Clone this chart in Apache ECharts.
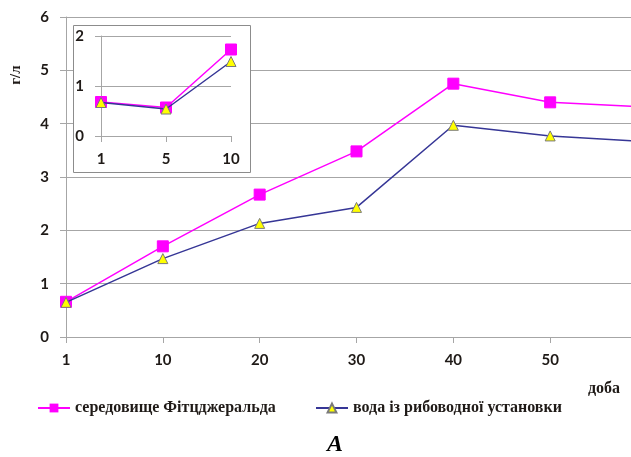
<!DOCTYPE html>
<html>
<head>
<meta charset="utf-8">
<script src="https://cdn.jsdelivr.net/npm/echarts@6/dist/echarts.min.js"></script>
<style>html,body{margin:0;padding:0;background:#fff}#c{width:631px;height:457px}</style>
</head>
<body>
<div id="c"></div>
<script>
// Main chart data
const mainCategories = ['1', '10', '20', '30', '40', '50', '60'];
const fitzgerald = [0.66, 1.70, 2.67, 3.48, 4.75, 4.40, 4.31];
const fishWater = [0.65, 1.47, 2.13, 2.43, 3.97, 3.77, 3.66];
const mainYTicks = [0, 1, 2, 3, 4, 5, 6];
// Inset chart data
const insetCategories = ['1', '5', '10'];
const fitzInset = [0.68, 0.57, 1.73];
const fishInset = [0.67, 0.54, 1.49];
const insetYTicks = [0, 1, 2];

const nameFitz = 'середовище Фітцджеральда';
const nameFish = 'вода із рибоводної установки';
const pink = '#ff00ff';
const navy = '#363696';
const gridGray = '#a6a6a6';
const labelFont = { fontFamily: 'Lato', fontWeight: 'bold', fontSize: 15, color: '#1f1a17' };
const serif = 'Liberation Serif';

const chart = echarts.init(document.getElementById('c'));
const fitzStyle = {
  symbol: 'rect', symbolSize: 11,
  lineStyle: { color: pink, width: 1.5 },
  itemStyle: { color: pink, borderColor: pink }
};
const fishStyle = {
  symbol: 'triangle', symbolSize: 10,
  lineStyle: { color: navy, width: 1.5 },
  itemStyle: { color: '#ffff00', borderColor: '#7a7a7a', borderWidth: 1 }
};
const legendText = { fontFamily: serif, fontWeight: 'bold', fontSize: 16, color: '#1f1a17' };

chart.setOption({
  animation: false,
  backgroundColor: '#fff',
  grid: [
    { left: 66, right: -16, top: 17, bottom: 120, outerBoundsMode: 'none', containLabel: false },
    { left: 101, right: 400, top: 36, bottom: 321, outerBoundsMode: 'none', containLabel: false }
  ],
  xAxis: [
    {
      gridIndex: 0, type: 'category', data: mainCategories, boundaryGap: false, z: 0,
      axisLine: { lineStyle: { color: gridGray } },
      axisTick: { show: true, alignWithLabel: true, length: 6, lineStyle: { color: gridGray } },
      axisLabel: Object.assign({ margin: 16, interval: 0, hideOverlap: false }, labelFont)
    },
    {
      gridIndex: 1, type: 'category', data: insetCategories, boundaryGap: false, z: 3,
      axisLine: { lineStyle: { color: gridGray } },
      axisTick: { show: true, length: 6, lineStyle: { color: gridGray } },
      axisLabel: Object.assign({ margin: 16, interval: 0 }, labelFont)
    }
  ],
  yAxis: [
    {
      gridIndex: 0, type: 'value', min: mainYTicks[0], max: mainYTicks[mainYTicks.length - 1], interval: 1, z: 0,
      axisLine: { show: true, lineStyle: { color: gridGray } },
      axisTick: { show: true, length: 6, lineStyle: { color: gridGray } },
      splitLine: { lineStyle: { color: gridGray, width: 1 } },
      axisLabel: Object.assign({ margin: 17 }, labelFont)
    },
    {
      gridIndex: 1, type: 'value', min: insetYTicks[0], max: insetYTicks[insetYTicks.length - 1], interval: 1, z: 3,
      axisLine: { show: true, lineStyle: { color: gridGray } },
      axisTick: { show: true, length: 6, lineStyle: { color: gridGray } },
      splitLine: { lineStyle: { color: gridGray, width: 1 } },
      axisLabel: Object.assign({ margin: 17 }, labelFont)
    }
  ],
  legend: [
    { data: [nameFitz], left: 37, top: 400, padding: 0, itemWidth: 32, itemHeight: 11, textStyle: legendText },
    { data: [nameFish], left: 315, top: 400, padding: 0, itemWidth: 32, itemHeight: 11, textStyle: legendText }
  ],
  series: [
    Object.assign({ name: nameFitz, type: 'line', xAxisIndex: 0, yAxisIndex: 0, data: fitzgerald, z: 2 }, fitzStyle),
    Object.assign({ name: nameFish, type: 'line', xAxisIndex: 0, yAxisIndex: 0, data: fishWater, z: 3 }, fishStyle),
    Object.assign({ name: nameFitz, type: 'line', xAxisIndex: 1, yAxisIndex: 1, data: fitzInset, z: 4 }, fitzStyle),
    Object.assign({ name: nameFish, type: 'line', xAxisIndex: 1, yAxisIndex: 1, data: fishInset, z: 5 }, fishStyle)
  ],
  graphic: [
    { type: 'rect', z: 1, shape: { x: 73.5, y: 25.5, width: 177, height: 147 },
      style: { fill: '#fff', stroke: '#8c8c8c', lineWidth: 1 } },
    { type: 'text', x: 16, y: 75, rotation: Math.PI / 2,
      style: { text: 'г/л', fontFamily: serif, fontWeight: 'bold', fontSize: 15, fill: '#1f1a17', align: 'center', verticalAlign: 'middle' } },
    { type: 'text', x: 604, y: 389,
      style: { text: 'доба', fontFamily: serif, fontWeight: 'bold', fontSize: 16, fill: '#1f1a17', align: 'center', verticalAlign: 'middle' } },
    { type: 'text', x: 335, y: 445,
      style: { text: 'A', fontFamily: serif, fontWeight: 'bold', fontStyle: 'italic', fontSize: 24, fill: '#000', align: 'center', verticalAlign: 'middle' } }
  ]
});
</script>
</body>
</html>
